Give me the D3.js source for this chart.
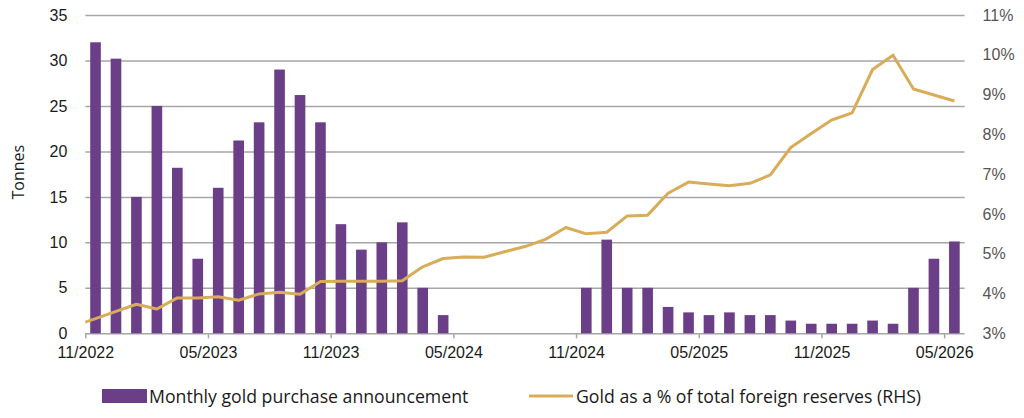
<!DOCTYPE html>
<html>
<head>
<meta charset="utf-8">
<script src="https://cdn.jsdelivr.net/npm/d3@7"></script>
<style>
    body { margin: 0; background: #fff; }
    svg { display: block; font-family: "Open Sans", "Noto Sans", sans-serif; }
    .grid line { stroke: #a6a6a6; stroke-width: 1.5; }
    .grid path { display: none; }
    .axis path { display: none; }
    .axis text { font-size: 16px; }
    .legend text { font-size: 17.7px; fill: #1a1a1a; }
</style>
</head>
<body>
<div id="canvas"></div>
<script>
"use strict"

// months shown as bars: 11/2022 .. 05/2026
let months = [
    "2022-11", "2022-12",
    "2023-01", "2023-02", "2023-03", "2023-04", "2023-05", "2023-06",
    "2023-07", "2023-08", "2023-09", "2023-10", "2023-11", "2023-12",
    "2024-01", "2024-02", "2024-03", "2024-04", "2024-05", "2024-06",
    "2024-07", "2024-08", "2024-09", "2024-10", "2024-11", "2024-12",
    "2025-01", "2025-02", "2025-03", "2025-04", "2025-05", "2025-06",
    "2025-07", "2025-08", "2025-09", "2025-10", "2025-11", "2025-12",
    "2026-01", "2026-02", "2026-03", "2026-04", "2026-05"
]

// monthly gold purchase announcement (tonnes)
let tonnes = [
    32, 30.2,
    15, 25, 18.2, 8.2, 16, 21.2,
    23.2, 29, 26.2, 23.2, 12, 9.2,
    10, 12.2, 5, 2, 0, 0,
    0, 0, 0, 0, 5, 10.3,
    5, 5, 2.9, 2.3, 2, 2.3,
    2, 2, 1.4, 1.05, 1.05, 1.05,
    1.4, 1.05, 5, 8.2, 10.1
]

// gold as % of total foreign reserves, starts one month earlier (10/2022)
let shareMonths = ["2022-10"].concat(months)
let goldShare = [
    3.19, 3.37, 3.55,
    3.73, 3.61, 3.89, 3.89, 3.92, 3.83,
    3.99, 4.03, 3.98, 4.30, 4.31, 4.31,
    4.31, 4.32, 4.67, 4.88, 4.92, 4.91,
    5.05, 5.18, 5.36, 5.66, 5.50, 5.54,
    5.95, 5.97, 6.52, 6.80, 6.75, 6.71,
    6.77, 6.98, 7.67, 8.02, 8.36, 8.54,
    9.63, 9.99, 9.14, 8.99, 8.84
]

let xTickMonths = ["2022-11", "2023-05", "2023-11", "2024-05", "2024-11", "2025-05", "2025-11", "2026-05"]
let xTickLabels = ["11/2022", "05/2023", "11/2023", "05/2024", "11/2024", "05/2025", "11/2025", "05/2026"]
let leftTicks = [0, 5, 10, 15, 20, 25, 30, 35]
let rightTicks = [3, 4, 5, 6, 7, 8, 9, 10, 11]

let legendLabels = ["Monthly gold purchase announcement", "Gold as a % of total foreign reserves (RHS)"]

let svgWidth = 1024
let svgHeight = 418

let margin = {
    top: 15,
    right: 59.4,
    bottom: 84.7,
    left: 85.3
}

let width = svgWidth - margin.left - margin.right
let height = svgHeight - margin.top - margin.bottom

let barColor = "#6b3f88"
let lineColor = "#d8ac58"

let svg = d3.select("#canvas")
    .append("svg")
    .attr("width", svgWidth)
    .attr("height", svgHeight)

let viz = svg.append("g")
    .attr("transform", `translate(${margin.left},${margin.top})`)

// month index -> x, index 0 is the left edge of 11/2022
function monthIndex(m) {
    let p = m.split("-")
    return (+p[0] - 2022) * 12 + (+p[1] - 11)
}

let xScale = d3.scaleLinear()
    .domain([0, months.length])
    .range([0, width])

let yScale = d3.scaleLinear()
    .domain([0, 35])
    .range([height, 0])

let y2Scale = d3.scaleLinear()
    .domain([3, 11])
    .range([height, 0])

// ---------------- GRID ----------------
viz.append("g")
    .attr("class", "grid")
    .call(d3.axisLeft(yScale)
        .tickValues(leftTicks)
        .tickSize(-width)
        .tickFormat(""))

// ---------------- AXES ----------------
let xAxis = viz.append("g")
    .attr("class", "axis")
    .attr("transform", `translate(0,${height})`)
    .call(d3.axisBottom(xScale)
        .tickValues(xTickMonths.map(monthIndex))
        .tickSize(5)
        .tickPadding(8)
        .tickFormat(function(d, i) { return xTickLabels[i] }))

xAxis.selectAll("line").attr("stroke", "#a6a6a6").attr("stroke-width", 1.5)
xAxis.selectAll("text").attr("fill", "#1a1a1a")

let leftAxis = viz.append("g")
    .attr("class", "axis")
    .call(d3.axisLeft(yScale)
        .tickValues(leftTicks)
        .tickSize(0)
        .tickPadding(18))

leftAxis.selectAll("text").attr("fill", "#1a1a1a")

let rightAxis = viz.append("g")
    .attr("class", "axis")
    .attr("transform", `translate(${width},0)`)
    .call(d3.axisRight(y2Scale)
        .tickValues(rightTicks)
        .tickSize(0)
        .tickPadding(18)
        .tickFormat(function(d) { return d + "%" }))

rightAxis.selectAll("text").attr("fill", "#555")

viz.append("text")
    .attr("transform", "rotate(-90)")
    .attr("x", -yScale(17.5) + 2)
    .attr("y", -61)
    .attr("text-anchor", "middle")
    .attr("font-size", 16)
    .attr("fill", "#1a1a1a")
    .text("Tonnes")

// ---------------- BARS ----------------
let step = xScale(1) - xScale(0)
let barWidth = step * 0.52

viz.selectAll("rect.bar")
    .data(months.map(function(m, i) { return { month: m, value: tonnes[i] } }))
    .enter()
    .append("rect")
    .attr("class", "bar")
    .attr("x", function(d) { return xScale(monthIndex(d.month) + 0.5) - barWidth / 2 })
    .attr("y", function(d) { return yScale(d.value) })
    .attr("width", barWidth)
    .attr("height", function(d) { return height - yScale(d.value) })
    .attr("fill", barColor)

// ---------------- LINE ----------------
viz.append("clipPath")
    .attr("id", "plotClip")
    .append("rect")
    .attr("x", 0)
    .attr("y", -10)
    .attr("width", width)
    .attr("height", height + 20)

let line = d3.line()
    .x(function(d) { return xScale(monthIndex(d.month) + 0.5) })
    .y(function(d) { return y2Scale(d.value) })

viz.append("path")
    .datum(shareMonths.map(function(m, i) { return { month: m, value: goldShare[i] } }))
    .attr("clip-path", "url(#plotClip)")
    .attr("d", line)
    .attr("fill", "none")
    .attr("stroke", lineColor)
    .attr("stroke-width", 3)
    .attr("stroke-linejoin", "round")

// ---------------- LEGEND ----------------
let legend = svg.append("g")
    .attr("class", "legend")
    .attr("transform", "translate(0,396)")

legend.append("rect")
    .attr("x", 102)
    .attr("y", -7)
    .attr("width", 45)
    .attr("height", 14)
    .attr("fill", barColor)

legend.append("text")
    .attr("x", 149)
    .attr("y", 0)
    .attr("dominant-baseline", "central")
    .text(legendLabels[0])

legend.append("line")
    .attr("x1", 529)
    .attr("x2", 573)
    .attr("y1", 0)
    .attr("y2", 0)
    .attr("stroke", lineColor)
    .attr("stroke-width", 3)

legend.append("text")
    .attr("x", 576)
    .attr("y", 0)
    .attr("dominant-baseline", "central")
    .text(legendLabels[1])
</script>
</body>
</html>
